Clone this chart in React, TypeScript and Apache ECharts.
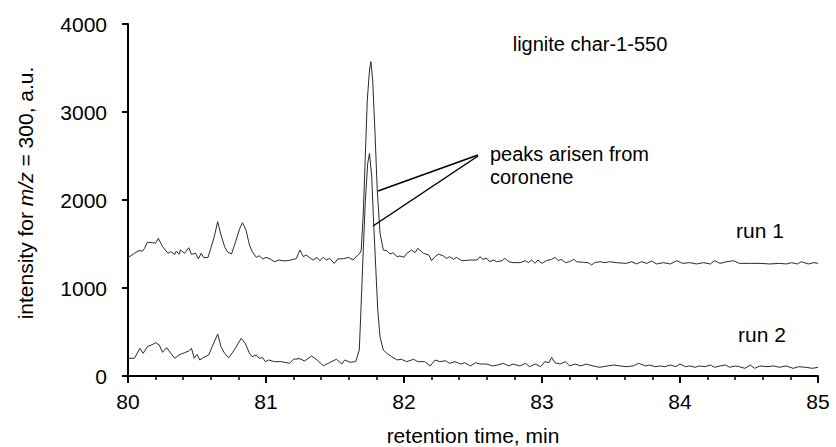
import React, { useEffect, useRef } from "react";
import * as echarts from "echarts";

const FONT = "Liberation Sans, Arial, sans-serif";

const xTicks = [80, 81, 82, 83, 84, 85];
const yTicks = [0, 1000, 2000, 3000, 4000];

const run1Time = [
  80.0, 80.046, 80.08, 80.106, 80.12, 80.14, 80.18, 80.2, 80.22, 80.25, 80.29, 80.31, 80.34, 80.35, 80.37,
  80.38, 80.41, 80.44, 80.46, 80.49, 80.51, 80.53, 80.55, 80.58, 80.6, 80.625, 80.65, 80.674, 80.7, 80.72,
  80.75, 80.78, 80.81, 80.83, 80.855, 80.88, 80.9, 80.93, 80.95, 80.976, 81.0, 81.03, 81.06, 81.096, 81.13,
  81.17, 81.22, 81.246, 81.27, 81.29, 81.34, 81.37, 81.39, 81.415, 81.44, 81.46, 81.495, 81.52, 81.56, 81.6,
  81.63, 81.66, 81.68, 81.69, 81.705, 81.717, 81.734, 81.75, 81.76, 81.773, 81.79, 81.806, 81.826, 81.85,
  81.875, 81.9, 81.92, 81.95, 81.97, 82.0, 82.02, 82.056, 82.08, 82.1, 82.14, 82.18, 82.2, 82.225, 82.25,
  82.285, 82.31, 82.33, 82.36, 82.38, 82.42, 82.48, 82.53, 82.55, 82.57, 82.6, 82.62, 82.65, 82.67, 82.71,
  82.73, 82.76, 82.79, 82.84, 82.88, 82.9, 82.925, 82.95, 82.97, 83.0, 83.03, 83.07, 83.094, 83.12, 83.14,
  83.17, 83.2, 83.23, 83.25, 83.3, 83.335, 83.36, 83.38, 83.42, 83.456, 83.49, 83.54, 83.61, 83.65, 83.686,
  83.72, 83.76, 83.795, 83.83, 83.88, 83.93, 83.976, 84.02, 84.07, 84.12, 84.17, 84.22, 84.25, 84.29, 84.34,
  84.39, 84.43, 84.51, 84.58, 84.65, 84.72, 84.77, 84.81, 84.85, 84.88, 84.93, 84.97, 85.0,
];
const run1Intensity = [
  1344, 1394, 1424, 1420, 1451, 1519, 1515, 1508, 1564, 1470, 1394, 1413, 1383, 1420, 1383,
  1432, 1394, 1458, 1383, 1394, 1330, 1394, 1344, 1348, 1451, 1583, 1754, 1602, 1470, 1413,
  1386, 1527, 1678, 1742, 1659, 1489, 1413, 1348, 1367, 1330, 1348, 1330, 1299, 1318, 1307,
  1314, 1335, 1432, 1356, 1375, 1318, 1348, 1310, 1348, 1318, 1337, 1280, 1330, 1333, 1348,
  1318, 1367, 1394, 1432, 1850, 2379, 3136, 3477, 3572, 3364, 2761, 2114, 1625, 1432,
  1424, 1386, 1401, 1356, 1364, 1348, 1394, 1432, 1401, 1451, 1394, 1375, 1310, 1356, 1386,
  1364, 1337, 1356, 1326, 1348, 1310, 1318, 1318, 1356, 1326, 1337, 1299, 1318, 1299, 1310,
  1337, 1299, 1288, 1288, 1310, 1288, 1318, 1280, 1318, 1280, 1310, 1326, 1348, 1310, 1326,
  1288, 1299, 1326, 1299, 1292, 1288, 1261, 1288, 1299, 1288, 1299, 1288, 1280, 1299, 1273,
  1299, 1280, 1307, 1273, 1288, 1273, 1310, 1280, 1288, 1273, 1288, 1273, 1310, 1280, 1299,
  1310, 1280, 1280, 1280, 1273, 1280, 1273, 1288, 1273, 1299, 1273, 1288, 1280,
];

const run2Time = [
  80.0, 80.046, 80.087, 80.11, 80.14, 80.18, 80.2, 80.227, 80.25, 80.28, 80.31, 80.34, 80.37, 80.41, 80.44,
  80.46, 80.48, 80.5, 80.52, 80.545, 80.585, 80.61, 80.65, 80.674, 80.7, 80.73, 80.77, 80.82, 80.85, 80.88,
  80.9, 80.93, 80.95, 80.976, 80.995, 81.02, 81.06, 81.11, 81.17, 81.2, 81.246, 81.28, 81.33, 81.37, 81.415,
  81.46, 81.51, 81.55, 81.57, 81.61, 81.65, 81.676, 81.686, 81.705, 81.72, 81.737, 81.75, 81.766, 81.778,
  81.795, 81.81, 81.826, 81.85, 81.875, 81.91, 81.95, 81.98, 82.02, 82.07, 82.1, 82.15, 82.19, 82.225, 82.26,
  82.3, 82.33, 82.37, 82.41, 82.44, 82.48, 82.52, 82.55, 82.6, 82.64, 82.68, 82.72, 82.76, 82.79, 82.84,
  82.88, 82.91, 82.95, 82.99, 83.02, 83.05, 83.07, 83.094, 83.13, 83.17, 83.2, 83.24, 83.28, 83.32, 83.37,
  83.42, 83.47, 83.52, 83.565, 83.61, 83.66, 83.7, 83.75, 83.78, 83.82, 83.86, 83.89, 83.93, 83.97, 84.0,
  84.04, 84.07, 84.11, 84.14, 84.18, 84.22, 84.25, 84.29, 84.33, 84.36, 84.4, 84.43, 84.47, 84.51, 84.54,
  84.58, 84.63, 84.68, 84.72, 84.77, 84.82, 84.86, 84.91, 84.96, 85.0,
];
const run2Intensity = [
  201, 201, 314, 258, 333, 360, 379, 352, 269, 322, 258, 201, 239, 265, 284,
  314, 201, 246, 182, 208, 239, 333, 477, 333, 258, 208, 295, 428, 371, 258,
  220, 239, 201, 208, 163, 182, 163, 163, 144, 190, 197, 170, 227, 182, 117,
  151, 190, 136, 182, 156, 163, 295, 674, 1432, 2000, 2417, 2530, 2265, 1811,
  1242, 750, 447, 295, 258, 220, 182, 190, 163, 190, 163, 163, 114, 182, 163,
  174, 144, 163, 136, 151, 114, 151, 136, 136, 114, 125, 144, 114, 136, 114,
  144, 106, 136, 106, 163, 151, 212, 151, 136, 163, 114, 136, 114, 136, 114,
  99, 114, 125, 114, 106, 114, 144, 114, 125, 106, 114, 106, 125, 106, 136,
  106, 114, 99, 114, 106, 125, 99, 114, 125, 99, 114, 106, 87, 125, 87,
  114, 106, 114, 99, 114, 87, 106, 99, 87, 99,
];

const seriesNames = ["run 1", "run 2"];
const chartTitle = "lignite char-1-550";
const annotationLines = ["peaks arisen from", "coronene"];
const xAxisName = "retention time, min";

export default function App() {
  const ref = useRef<HTMLDivElement>(null);

  useEffect(() => {
    if (!ref.current) return;
    const chart = echarts.init(ref.current, undefined, { renderer: "svg" });
    const textStyle = { fontFamily: FONT, fontSize: 20, fill: "#000" };
    chart.setOption({
      animation: false,
      backgroundColor: "#fff",
      grid: { left: 128, right: 18, top: 24, bottom: 71, containLabel: false },
      xAxis: {
        type: "value",
        min: xTicks[0],
        max: xTicks[xTicks.length - 1],
        interval: 1,
        axisLine: { show: true, lineStyle: { color: "#000", width: 2 } },
        axisTick: { show: true, inside: false, length: 7, lineStyle: { color: "#000", width: 2 } },
        minorTick: { show: true, splitNumber: 5, length: 4, lineStyle: { color: "#000", width: 1.5 } },
        splitLine: { show: false },
        minorSplitLine: { show: false },
        axisLabel: {
          color: "#000",
          fontFamily: FONT,
          fontSize: 21,
          margin: 15,
          formatter: (v: number) => String(v),
        },
      },
      yAxis: {
        type: "value",
        min: yTicks[0],
        max: yTicks[yTicks.length - 1],
        interval: 1000,
        axisLine: { show: true, lineStyle: { color: "#000", width: 2 } },
        axisTick: { show: true, inside: false, length: 6, lineStyle: { color: "#000", width: 2 } },
        splitLine: { show: false },
        axisLabel: {
          color: "#000",
          fontFamily: FONT,
          fontSize: 21,
          margin: 21,
          formatter: (v: number) => String(v),
        },
      },
      series: [
        {
          name: seriesNames[0],
          type: "line",
          showSymbol: false,
          data: run1Time.map((t, i) => [t, run1Intensity[i]]),
          lineStyle: { color: "#2a2a2a", width: 1 },
          z: 3,
        },
        {
          name: seriesNames[1],
          type: "line",
          showSymbol: false,
          data: run2Time.map((t, i) => [t, run2Intensity[i]]),
          lineStyle: { color: "#2a2a2a", width: 1 },
          z: 3,
        },
      ],
      graphic: [
        {
          type: "text",
          x: 25,
          y: 193,
          rotation: Math.PI / 2,
          style: {
            text: "{a|intensity for }{b|m/z}{a| = 300, a.u.}",
            rich: {
              a: { fontFamily: FONT, fontSize: 21, color: "#000" },
              b: { fontFamily: FONT, fontSize: 21, color: "#000", fontStyle: "italic" },
            },
            align: "center",
            verticalAlign: "middle",
            fontFamily: FONT,
            fontSize: 21,
            fill: "#000",
          },
        },
        {
          type: "text",
          x: 473,
          y: 435,
          style: { ...textStyle, fontSize: 21, text: xAxisName, align: "center", verticalAlign: "middle" },
        },
        {
          type: "text",
          x: 590,
          y: 44,
          style: { ...textStyle, text: chartTitle, align: "center", verticalAlign: "middle" },
        },
        {
          type: "text",
          x: 490,
          y: 154,
          style: { ...textStyle, text: annotationLines[0], align: "left", verticalAlign: "middle" },
        },
        {
          type: "text",
          x: 490,
          y: 177,
          style: { ...textStyle, text: annotationLines[1], align: "left", verticalAlign: "middle" },
        },
        {
          type: "text",
          x: 736,
          y: 230,
          style: { ...textStyle, fontSize: 21, text: seriesNames[0], align: "left", verticalAlign: "middle" },
        },
        {
          type: "text",
          x: 738,
          y: 334,
          style: { ...textStyle, fontSize: 21, text: seriesNames[1], align: "left", verticalAlign: "middle" },
        },
        {
          type: "line",
          shape: { x1: 478, y1: 155, x2: 378, y2: 191 },
          style: { stroke: "#000", lineWidth: 1.5 },
          z: 10,
        },
        {
          type: "line",
          shape: { x1: 478, y1: 156, x2: 373, y2: 226 },
          style: { stroke: "#000", lineWidth: 1.5 },
          z: 10,
        },
      ],
    });
    return () => chart.dispose();
  }, []);

  return (
    <div
      ref={ref}
      style={{ position: "fixed", left: 0, top: 0, width: 836, height: 447, background: "#fff" }}
    />
  );
}
